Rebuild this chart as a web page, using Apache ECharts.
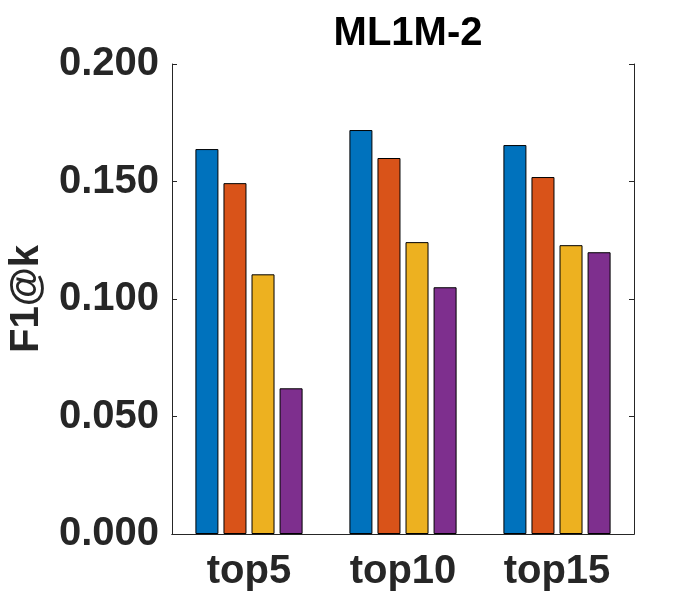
<!DOCTYPE html>
<html lang="en">

<head>
    <meta http-equiv="Content-Type" content="text/html; charset=utf-8" />
    <title>ML1M-2</title>
    <style>
        html,
        body,
        #myChart {
            width: 100%;
            height: 100%;
            margin: 0;
            padding: 0;
            overflow: hidden;
            background: #ffffff;
        }
    </style>
</head>

<body>
    <div id="myChart"></div>
    <script src="https://cdn.jsdelivr.net/npm/echarts@6/dist/echarts.min.js"></script>
    <script>
        var categories = ['top5', 'top10', 'top15'];
        var seriesNames = ['Method 1', 'Method 2', 'Method 3', 'Method 4'];
        var method1 = [0.1638, 0.1719, 0.1655];
        var method2 = [0.1493, 0.1600, 0.1519];
        var method3 = [0.1105, 0.1242, 0.1229];
        var method4 = [0.0620, 0.1050, 0.1199];
        var colors = ['#0072BD', '#D95319', '#EDB120', '#7E2F8E'];

        var font = '"Liberation Sans", Arial, Helvetica, sans-serif';
        var textColor = '#262626';

        var myChart = echarts.init(document.getElementById('myChart'));
        var seriesData = [method1, method2, method3, method4];
        var series = [];
        for (var i = 0; i < seriesData.length; i++) {
            series.push({
                name: seriesNames[i],
                type: 'bar',
                data: seriesData[i],
                barWidth: 23,
                barGap: '22%',
                itemStyle: {
                    color: colors[i],
                    borderColor: '#000000',
                    borderWidth: 1
                }
            });
        }

        var option = {
            animation: false,
            title: {
                text: 'ML1M-2',
                left: 403,
                top: 9,
                textAlign: 'center',
                textStyle: {
                    fontFamily: font,
                    fontWeight: 'bold',
                    fontSize: 40,
                    color: '#000000'
                }
            },
            grid: {
                left: 172,
                right: 66,
                top: 64,
                bottom: 66,
                containLabel: false,
                outerBoundsMode: 'none'
            },
            xAxis: [{
                type: 'category',
                data: categories,
                position: 'bottom',
                axisLine: { lineStyle: { color: textColor, width: 1 } },
                axisTick: { inside: true, alignWithLabel: true, length: 4, lineStyle: { color: textColor } },
                axisLabel: {
                    margin: 18,
                    fontFamily: font,
                    fontWeight: 'bold',
                    fontSize: 40,
                    color: textColor
                }
            }, {
                type: 'category',
                data: categories,
                position: 'top',
                axisLine: { lineStyle: { color: textColor, width: 1 } },
                axisTick: { inside: true, alignWithLabel: true, length: 4, lineStyle: { color: textColor } },
                axisLabel: { show: false }
            }],
            yAxis: [{
                type: 'value',
                min: 0,
                max: 0.2,
                interval: 0.05,
                name: 'F1@k',
                nameLocation: 'middle',
                nameGap: 125,
                nameRotate: 90,
                nameTextStyle: {
                    fontFamily: font,
                    fontWeight: 'bold',
                    fontSize: 40,
                    color: textColor
                },
                axisLine: { show: true, lineStyle: { color: textColor, width: 1 } },
                axisTick: { show: true, inside: true, length: 5, lineStyle: { color: textColor } },
                splitLine: { show: false },
                axisLabel: {
                    margin: 13,
                    fontFamily: font,
                    fontWeight: 'bold',
                    fontSize: 40,
                    color: textColor,
                    formatter: function (v) {
                        return v.toFixed(3);
                    }
                }
            }, {
                type: 'value',
                min: 0,
                max: 0.2,
                interval: 0.05,
                position: 'right',
                axisLine: { show: true, lineStyle: { color: textColor, width: 1 } },
                axisTick: { show: true, inside: true, length: 5, lineStyle: { color: textColor } },
                splitLine: { show: false },
                axisLabel: { show: false }
            }],
            series: series
        };
        myChart.setOption(option);
    </script>
</body>

</html>
